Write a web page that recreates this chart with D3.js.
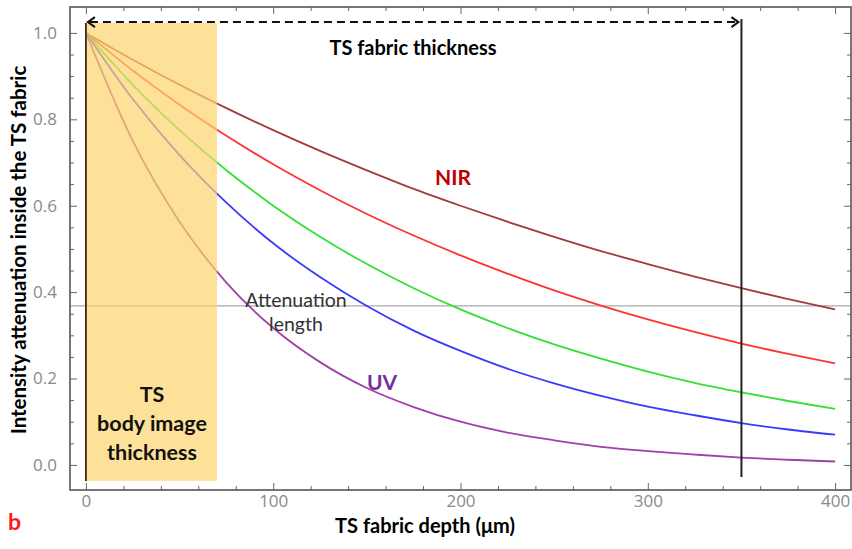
<!DOCTYPE html>
<meta charset="utf-8">
<script src="https://d3js.org/d3.v7.min.js"></script>
<style>
  body { margin: 0; background: #fff; }
  text { font-family: Lato, "Open Sans", sans-serif; }
</style>
<div id="chart"></div>
<script>
// depth samples (um) and intensity
const depth = [0, 25, 50, 75, 100, 125, 150, 175, 200, 225, 250, 275, 300, 325, 350, 375, 400];
const nir    = [1, 0.938, 0.880, 0.826, 0.775, 0.727, 0.682, 0.639, 0.600, 0.563, 0.528, 0.495, 0.465, 0.436, 0.409, 0.384, 0.360];
const red    = [1, 0.913, 0.834, 0.762, 0.696, 0.636, 0.581, 0.531, 0.485, 0.443, 0.404, 0.369, 0.337, 0.308, 0.281, 0.257, 0.235];
const green  = [1, 0.880, 0.775, 0.682, 0.600, 0.528, 0.465, 0.409, 0.360, 0.317, 0.279, 0.246, 0.216, 0.190, 0.168, 0.148, 0.130];
const blue   = [1, 0.847, 0.717, 0.607, 0.513, 0.435, 0.368, 0.311, 0.264, 0.223, 0.189, 0.160, 0.135, 0.115, 0.097, 0.082, 0.070];
const uv     = [1, 0.750, 0.563, 0.422, 0.317, 0.238, 0.178, 0.134, 0.100, 0.075, 0.057, 0.042, 0.032, 0.024, 0.017, 0.012, 0.008];
const seriesColors = ["#a33b3b", "#ff3333", "#33e033", "#3a3aff", "#a040a8"];
const xTicks = [0, 100, 200, 300, 400];
const yTicks = [0, 0.2, 0.4, 0.6, 0.8, 1.0];
const attenLevel = 0.368;   // 1/e
const bodyThickness = 70;
const fabricThickness = 350;

const width = 852, height = 549;
const mLeft = 70, mRight = 851, mTop = 7, mBottom = 490;

const svg = d3.select("#chart").append("svg")
  .attr("width", width).attr("height", height);

const x = d3.scaleLinear().domain([-8.5, 408.5]).range([mLeft, mRight]);
const y = d3.scaleLinear().domain([-0.058, 1.06]).range([mBottom, mTop]);

const plot = svg.append("g");

// horizontal attenuation-length line
plot.append("line")
  .attr("x1", mLeft).attr("x2", mRight)
  .attr("y1", y(attenLevel)).attr("y2", y(attenLevel))
  .attr("stroke", "#aaa").attr("stroke-width", 1.3);

// curves
const series = [nir, red, green, blue, uv];
const line = d3.line()
  .x((d, i) => x(depth[i]))
  .y(d => y(d))
  .curve(d3.curveMonotoneX);

plot.selectAll(".curve")
  .data(series)
  .join("path")
  .attr("class", "curve")
  .attr("fill", "none")
  .attr("stroke", (d, i) => seriesColors[i])
  .attr("stroke-width", 1.8)
  .attr("d", line);

// shaded body image band
plot.append("rect")
  .attr("x", x(0)).attr("width", x(bodyThickness) - x(0))
  .attr("y", y(1.023)).attr("height", y(-0.037) - y(1.023))
  .attr("fill", "#fcd46e").attr("opacity", 0.7);

plot.append("line")
  .attr("x1", x(0)).attr("x2", x(0))
  .attr("y1", y(1.023)).attr("y2", y(-0.037))
  .attr("stroke", "#3a2a10").attr("stroke-width", 1.8);

// fabric thickness line
plot.append("line")
  .attr("x1", x(fabricThickness)).attr("x2", x(fabricThickness))
  .attr("y1", y(1.032)).attr("y2", y(-0.028))
  .attr("stroke", "#222").attr("stroke-width", 2);

// dashed double arrow
const ay = y(1.025);
plot.append("line")
  .attr("x1", x(0) + 4).attr("x2", x(fabricThickness) - 4)
  .attr("y1", ay).attr("y2", ay)
  .attr("stroke", "#111").attr("stroke-width", 2)
  .attr("stroke-dasharray", "8,5");
plot.append("path")
  .attr("d", `M${x(0) + 9},${ay - 5} L${x(0) + 2},${ay} L${x(0) + 9},${ay + 5}`)
  .attr("fill", "none").attr("stroke", "#111").attr("stroke-width", 2);
plot.append("path")
  .attr("d", `M${x(fabricThickness) - 10},${ay - 5} L${x(fabricThickness) - 3},${ay} L${x(fabricThickness) - 10},${ay + 5}`)
  .attr("fill", "none").attr("stroke", "#111").attr("stroke-width", 2);

// frame with inward ticks
const xMinor = d3.range(0, 401, 20).filter(v => v % 100 !== 0);
const yMinor = d3.range(0, 21).map(i => i * 0.05).filter((v, i) => i % 4 !== 0);

function styleAxis(g) {
  g.select(".domain").remove();
  g.selectAll(".tick line").attr("stroke", "#666").attr("stroke-width", 1);
  g.selectAll(".tick text")
    .attr("fill", "#8a8a8a")
    .style("font-family", "'Open Sans', sans-serif")
    .style("font-size", "17px");
}

svg.append("g").attr("transform", `translate(0,${mBottom})`)
  .call(d3.axisBottom(x).tickValues(xTicks).tickSizeInner(-7).tickSizeOuter(0).tickPadding(5).tickFormat(d3.format("d")))
  .call(styleAxis);
svg.append("g").attr("transform", `translate(0,${mBottom})`)
  .call(d3.axisBottom(x).tickValues(xMinor).tickSizeInner(-4).tickSizeOuter(0).tickFormat(""))
  .call(styleAxis);
svg.append("g").attr("transform", `translate(0,${mTop})`)
  .call(d3.axisTop(x).tickValues(xTicks).tickSizeInner(-7).tickSizeOuter(0).tickFormat(""))
  .call(styleAxis);
svg.append("g").attr("transform", `translate(0,${mTop})`)
  .call(d3.axisTop(x).tickValues(xMinor).tickSizeInner(-4).tickSizeOuter(0).tickFormat(""))
  .call(styleAxis);

svg.append("g").attr("transform", `translate(${mLeft},0)`)
  .call(d3.axisLeft(y).tickValues(yTicks).tickSizeInner(-7).tickSizeOuter(0).tickPadding(13).tickFormat(d3.format(".1f")))
  .call(styleAxis);
svg.append("g").attr("transform", `translate(${mLeft},0)`)
  .call(d3.axisLeft(y).tickValues(yMinor).tickSizeInner(-4).tickSizeOuter(0).tickFormat(""))
  .call(styleAxis);
svg.append("g").attr("transform", `translate(${mRight},0)`)
  .call(d3.axisRight(y).tickValues(yTicks).tickSizeInner(-7).tickSizeOuter(0).tickFormat(""))
  .call(styleAxis);
svg.append("g").attr("transform", `translate(${mRight},0)`)
  .call(d3.axisRight(y).tickValues(yMinor).tickSizeInner(-4).tickSizeOuter(0).tickFormat(""))
  .call(styleAxis);

svg.append("rect")
  .attr("x", mLeft).attr("y", mTop)
  .attr("width", mRight - mLeft).attr("height", mBottom - mTop)
  .attr("fill", "none").attr("stroke", "#555").attr("stroke-width", 1.6);

// annotations
svg.append("text")
  .attr("x", 413).attr("y", 55)
  .attr("text-anchor", "middle")
  .style("font-weight", "bold").style("font-size", "20px")
  .text("TS fabric thickness");

svg.append("text")
  .attr("x", 453).attr("y", 185)
  .attr("text-anchor", "middle")
  .attr("fill", "#c00000")
  .style("font-weight", "bold").style("font-size", "21px")
  .text("NIR");

svg.append("text")
  .attr("x", 382).attr("y", 390)
  .attr("text-anchor", "middle")
  .attr("fill", "#7030a0")
  .style("font-weight", "bold").style("font-size", "21px")
  .text("UV");

svg.append("text")
  .attr("text-anchor", "middle")
  .attr("fill", "#333")
  .style("font-size", "19.5px")
  .selectAll("tspan")
  .data(["Attenuation", "length"])
  .join("tspan")
  .attr("x", 296)
  .attr("y", (d, i) => 307 + i * 24)
  .text(d => d);

svg.append("text")
  .attr("text-anchor", "middle")
  .attr("fill", "#111")
  .style("font-weight", "bold").style("font-size", "21.5px")
  .selectAll("tspan")
  .data(["TS", "body image", "thickness"])
  .join("tspan")
  .attr("x", 152)
  .attr("y", (d, i) => 402 + i * 29)
  .text(d => d);

// axis titles
svg.append("text")
  .attr("transform", `translate(26,250) rotate(-90)`)
  .attr("text-anchor", "middle")
  .style("font-weight", "bold").style("font-size", "20.5px")
  .text("Intensity attenuation inside the TS fabric");

svg.append("text")
  .attr("x", 425).attr("y", 533)
  .attr("text-anchor", "middle")
  .style("font-weight", "bold").style("font-size", "20px")
  .text("TS fabric depth (\u03bcm)");

svg.append("text")
  .attr("x", 8).attr("y", 530)
  .attr("fill", "#ff1a1a")
  .style("font-weight", "bold").style("font-size", "23px")
  .text("b");
</script>
